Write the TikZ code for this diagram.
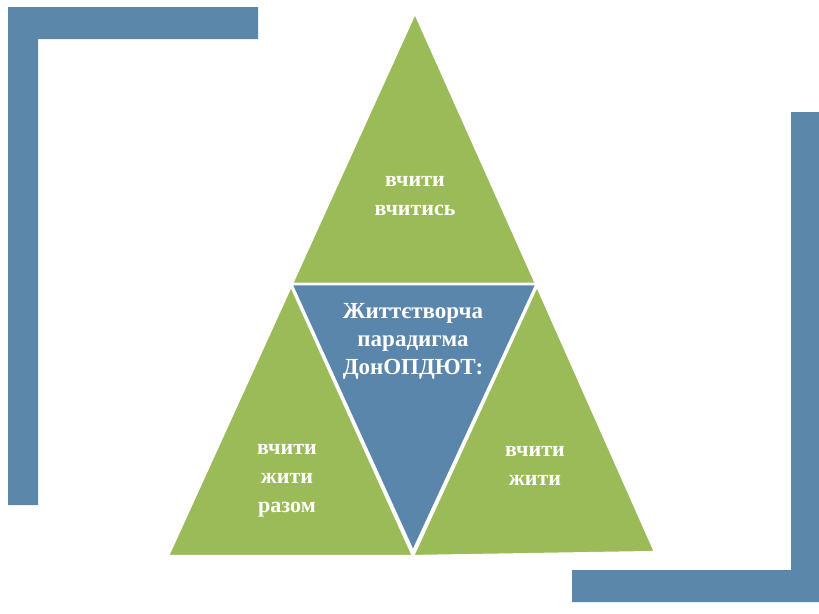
\documentclass[tikz,border=0pt]{standalone}
\usepackage{fontspec}
\setmainfont{Liberation Serif}
\definecolor{brk}{HTML}{5B87AB}
\definecolor{grn}{HTML}{9BBB59}
\definecolor{blu}{HTML}{5A86AC}
\tikzset{
  greentri/.style={fill=grn, draw=white, line width=2.2pt, line join=miter},
  bluetri/.style={fill=blu, draw=white, line width=2.8pt, line join=miter},
  bar/.style={fill=brk, draw=none},
  lbl/.style={text=white, font=\bfseries\fontsize{22}{29}\selectfont, align=center, inner sep=0pt},
  ttl/.style={text=white, font=\bfseries\fontsize{23}{28}\selectfont, align=center, inner sep=0pt}
}
\begin{document}
\begin{tikzpicture}[x=1pt,y=-1pt]
\useasboundingbox (0,0) rectangle (819,613);
% brackets
\fill[bar] (8,7) -- (258,7) -- (258,39) -- (38,39) -- (38,505) -- (8,505) -- cycle;
\fill[bar] (819,112) -- (819,602) -- (572,602) -- (572,570) -- (791,570) -- (791,112) -- cycle;
% triangle corners
\coordinate (A) at (415,13);
\coordinate (L) at (168,556);
\coordinate (R) at (655,552);
\coordinate (ML) at (291,286);
\coordinate (MR) at (537,286);
\coordinate (MB) at (413,556);
% triangles
\draw[greentri] (A) -- (ML) -- (MR) -- cycle;
\draw[greentri] (ML) -- (L) -- (MB) -- cycle;
\draw[greentri] (MR) -- (MB) -- (R) -- cycle;
\draw[bluetri] ([yshift=2pt]ML) -- ([yshift=2pt]MR) -- ([yshift=4pt]MB) -- cycle;
% labels
\node[lbl] (top) at (415,196) {вчити\\вчитись};
\node[ttl] (mid) at (413,341) {Життєтворча\\парадигма\\ДонОПДЮТ:};
\node[lbl] (left) at (287,481) {вчити\\жити\\разом};
\node[lbl] (right) at (535,466) {вчити\\жити};
\end{tikzpicture}
\end{document}
